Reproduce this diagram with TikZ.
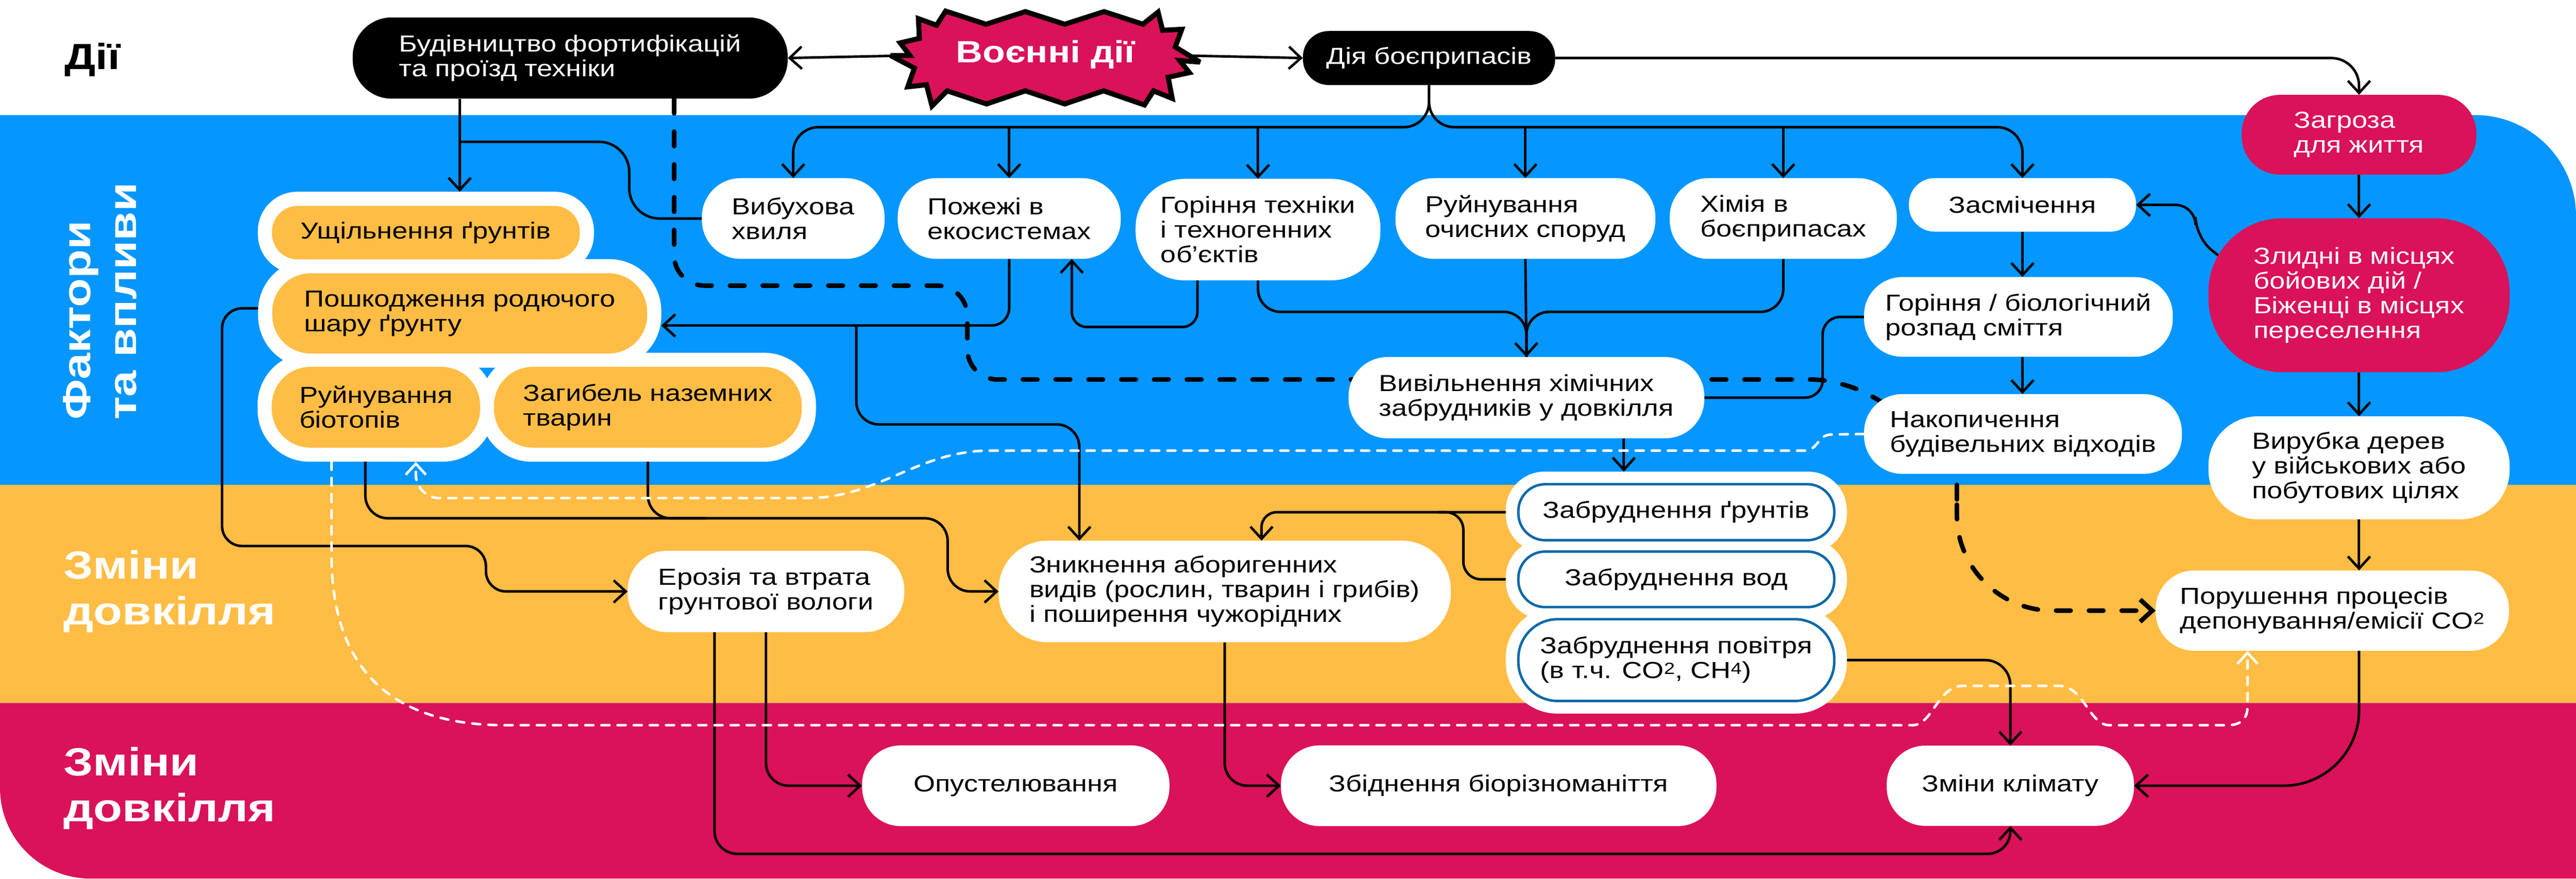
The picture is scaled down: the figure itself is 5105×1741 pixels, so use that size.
\documentclass[tikz,border=0pt]{standalone}
\usepackage{fontspec}
\setmainfont{Liberation Sans}[FakeStretch=1.2]
\usetikzlibrary{arrows.meta}
\pgfdeclarelayer{bands}
\pgfdeclarelayer{halos}
\pgfdeclarelayer{wires}
\pgfsetlayers{bands,halos,wires,main}

\begin{document}
\begin{tikzpicture}[x=1pt,y=-1pt,
  every node/.style={font=\fontsize{46}{49}\selectfont, align=left, inner sep=8pt},
  size/.style 2 args={minimum width=#1pt, minimum height=#2pt, rounded corners=0.48*#2pt},
  whitebox/.style={fill=white, text=black},
  darkbox/.style={fill=black, text=white},
  redbox/.style={fill=warRed, text=white},
  yellowbox/.style={fill=bandYellow, text=black, outer sep=28pt},
  pollbox/.style={fill=white, draw=lineBlue, line width=5pt, outer sep=25pt},
  band label/.style={text=white, inner sep=0pt, font=\bfseries\fontsize{78}{90}\selectfont},
  wire/.style={draw=black, line width=5pt, rounded corners=40pt},
  arr/.style={wire, -{Straight Barb[length=24pt,width=44pt]}},
  bdash/.style={draw=black, line width=9pt, line cap=round, dash pattern=on 29pt off 36pt},
  wdash/.style={draw=white, line width=5pt, line cap=round, dash pattern=on 16pt off 16pt}]
\definecolor{bandBlue}{rgb}{0.02,0.59,1.00}
\definecolor{bandYellow}{rgb}{1.00,0.74,0.27}
\definecolor{warRed}{rgb}{0.85,0.07,0.35}
\definecolor{lineBlue}{rgb}{0.04,0.41,0.66}
\path[use as bounding box] (0,0) rectangle (5105,1741);

% band labels
\node[band label, text=black, font=\bfseries\fontsize{72}{80}\selectfont, anchor=base west] (lblActs) at (128,137) {Дії};
\node[band label, rotate=90] (lblFactors) at (198,597) {Фактори\\та впливи};
\node[band label, anchor=west] (lblEnv) at (126,1172) {Зміни\\довкілля};
\node[band label, anchor=west] (lblEnvRed) at (126,1562) {Зміни\\довкілля};

% actions
\node[darkbox, size={862}{161}] (build) at (1130,115) {Будівництво фортифікацій\\та проїзд техніки};
\draw[fill=warRed, line width=10pt, miter limit=4]
  (1820,37) -- (1856,50) -- (1874,22) -- (1954,48) -- (2032,23) -- (2110,48) -- (2188,23) -- (2265,48)
  -- (2295,24) -- (2304,60) -- (2342,58) -- (2329,93) -- (2378,123) -- (2338,120) -- (2357,144)
  -- (2315,153) -- (2323,195) -- (2286,180) -- (2268,208) -- (2187,180) -- (2110,206) -- (2032,180)
  -- (1955,206) -- (1877,180) -- (1847,210) -- (1836,168) -- (1799,172) -- (1812,135) -- (1765,110)
  -- (1803,110) -- (1784,85) -- (1822,76) -- cycle;
\node[text=white, inner sep=0pt, font=\bfseries\fontsize{61}{61}\selectfont] (war) at (2072,108) {Воєнні дії};
\node[darkbox, size={500}{107}] (ammo) at (2832,115) {Дія боєприпасів};
\node[redbox, size={465}{158}] (threat) at (4675,267) {Загроза\\для життя};

% factors
\node[whitebox, size={362}{160}] (blast) at (1572,433) {Вибухова\\хвиля};
\node[whitebox, size={442}{160}] (fires) at (2000,433) {Пожежі в\\екосистемах};
\node[whitebox, size={485}{201}] (burn) at (2493,455) {Горіння техніки\\і техногенних\\об’єктів};
\node[whitebox, size={515}{160}] (plants) at (3023,433) {Руйнування\\очисних споруд};
\node[whitebox, size={450}{160}] (chem) at (3534,433) {Хімія в\\боєприпасах};
\node[whitebox, size={450}{106}] (litter) at (4008,406) {Засмічення};
\node[redbox, size={597}{305}] (poor) at (4675,585) {Злидні в місцях\\бойових дій /\\Біженці в місцях\\переселення};
\node[whitebox, size={612}{158}] (decay) at (4000,628) {Горіння / біологічний\\розпад сміття};
\node[whitebox, size={705}{161}] (release) at (3025,788) {Вивільнення хімічних\\забрудників у довкілля};
\node[whitebox, size={630}{158}] (waste) at (4009,860) {Накопичення\\будівельних відходів};
\node[whitebox, size={597}{204}] (felling) at (4675,927) {Вирубка дерев\\у військових або\\побутових цілях};
\node[yellowbox, size={610}{106}] (compact) at (844,461) {Ущільнення ґрунтів};
\node[yellowbox, size={743}{159}] (topsoil) at (911,621) {Пошкодження родючого\\шару ґрунту};
\node[yellowbox, size={413}{160}] (biotope) at (745,807) {Руйнування\\біотопів};
\node[yellowbox, size={610}{160}] (fauna) at (1284,807) {Загибель наземних\\тварин};

% environment changes
\node[whitebox, size={548}{161}] (erosion) at (1518,1172) {Ерозія та втрата\\грунтової вологи};
\node[whitebox, size={896}{201}] (species) at (2427,1172) {Зникнення аборигенних\\видів (рослин, тварин і грибів)\\і поширення чужорідних};
\node[pollbox, size={626}{111}] (psoil) at (3322,1015) {Забруднення ґрунтів};
\node[pollbox, size={626}{110}] (pwater) at (3322,1148) {Забруднення вод};
\node[pollbox, size={626}{162}] (pair) at (3322,1308) {Забруднення повітря\\(в т.ч. CO\textsuperscript{2}, CH\textsuperscript{4})};
\node[whitebox, size={700}{159}] (carbon) at (4622,1210) {Порушення процесів\\депонування/емісії CO\textsuperscript{2}};
\node[whitebox, size={609}{160}] (desert) at (2013,1557) {Опустелювання};
\node[whitebox, size={863}{160}] (biodiv) at (2970,1557) {Збіднення біорізноманіття};
\node[whitebox, size={490}{159}] (climate) at (3984,1557) {Зміни клімату};

\begin{pgfonlayer}{bands}
\fill[white] (0,0) rectangle (5105,1741);
\fill[bandBlue] (0,961) -- (0,228) -- (4905,228) .. controls (5015,228) and (5105,318) .. (5105,428) -- (5105,961) -- cycle;
\fill[bandYellow] (0,961) rectangle (5105,1393);
\fill[warRed] (0,1393) -- (5105,1393) -- (5105,1741) -- (180,1741) .. controls (80,1741) and (0,1661) .. (0,1561) -- cycle;
\end{pgfonlayer}

\begin{pgfonlayer}{halos}
\fill[white, rounded corners=78pt] (compact.south west) rectangle (compact.north east);
\fill[white, rounded corners=103pt] (topsoil.south west) rectangle (topsoil.north east);
\fill[white, rounded corners=103pt] (biotope.south west) rectangle (biotope.north east);
\fill[white, rounded corners=103pt] (fauna.south west) rectangle (fauna.north east);
\fill[white, rounded corners=77pt] (psoil.south west) rectangle (psoil.north east);
\fill[white, rounded corners=77pt] (pwater.south west) rectangle (pwater.north east);
\fill[white, rounded corners=102pt] (pair.south west) rectangle (pair.north east);
\end{pgfonlayer}

\begin{pgfonlayer}{wires}
% actions
\draw[arr] (war.west) -- (build.east);
\draw[arr] (war.east) -- (ammo.west);
\draw[arr, rounded corners=55pt] (ammo.east) -| (threat.north);
\coordinate (bus) at (2832,252);
\draw[arr, rounded corners=50pt] (ammo.south) |- (blast.north |- bus) -- (blast.north);
\draw[arr, rounded corners=50pt] (ammo.south) |- (litter.north |- bus) -- (litter.north);
\foreach \n in {fires,burn,plants,chem}
  \draw[arr] (\n.north |- bus) -- (\n.north);
\draw[arr] (build.south -| topsoil) -- (topsoil |- compact.north);
\draw[wire, rounded corners=60pt] (topsoil |- 0,281) -| (1247,0 |- blast.west) -- (blast.west);
\draw[bdash, rounded corners=60pt] (1336,0 |- build.south) -- (1336,566) -- (1917,566) -- (1917,752) -- (3650,752) -- (3878,880) -- (3878,1000);
\draw[bdash, rounded corners=190pt, -{Straight Barb[length=24pt,width=44pt]}] (3878,1000) -- (3878,1210) -- (carbon.west);

% factors
\draw[arr, rounded corners=35pt] (fires.south) |- ([yshift=-24pt]topsoil.east);
\coordinate (fireFork) at (1697,645);
\draw[arr, rounded corners=45pt] (fireFork) |- (2139,841) -- (2139,0 |- species.north);
\draw[arr, rounded corners=30pt] (2373,0 |- burn.south) |- (2124,648) -- (2124,0 |- fires.south);
\coordinate (merge) at (3025,618);
\draw[wire, rounded corners=45pt] (burn.south) |- (release.north |- merge) -- (release.north);
\draw[arr] (plants.south) -- (release.north);
\draw[wire, rounded corners=45pt] (chem.south) |- (release.north |- merge) -- (release.north);
\draw[arr] (3218,0 |- release.south) -- (3218,0 |- psoil.north);
\draw[wire, rounded corners=35pt] (decay.west) -- (3612,628) -- (3612,788) -- (release.east);
\draw[arr] (litter.south) -- (litter.south |- decay.north);
\draw[arr] (litter.south |- decay.south) -- (litter.south |- waste.north);
\draw[arr] (threat.south) -- (poor.north);
\draw[arr] (poor.south) -- (felling.north);
\draw[arr, rounded corners=40pt] ([xshift=22pt,yshift=77pt]poor.west) -- (4351,470) -- (4351,406) -- (litter.east);
\draw[arr] (felling.south) -- (felling.south |- carbon.north);
\draw[arr, rounded corners=150pt] (felling.south |- carbon.south) |- (climate.east);

% soil group
\draw[arr] ([yshift=10pt]topsoil.west) -- (440,611) -- (440,1082) -- (963,1082) -- (963,1172) -- (erosion.west);
\draw[arr, rounded corners=45pt] (724,0 |- biotope.south) |- (1878,1027) -- (1878,1172) -- (species.west);
\draw[wire, rounded corners=45pt] (fauna.south) |- (1400,1027);

% pollution group
\draw[arr, rounded corners=30pt] (psoil.west) -| (2500,0 |- species.north);
\draw[wire, rounded corners=35pt] (pwater.west) -- (2900,1148) -- (2900,1015) -- (2850,1015);
\draw[arr, rounded corners=50pt] (pair.east) -| (climate.north);

% environment changes
\draw[arr, rounded corners=45pt] (species.south) |- (biodiv.west);
\draw[arr, rounded corners=45pt] (erosion.south) |- (desert.west);
\draw[arr, rounded corners=45pt] (1416,0 |- erosion.south) |- (3984,1692) -- (climate.south);

% white dashed links
\draw[wdash, -{Straight Barb[length=22pt,width=40pt]}] (waste.west) -- (3630,861) .. controls (3600,861) and (3605,893) .. (3575,893)
  -- (1960,893) .. controls (1820,893) and (1740,987) .. (1600,987) -- (870,987)
  .. controls (845,987) and (824,965) .. (824,940) -- (824,0 |- biotope.south);
\draw[wdash, -{Straight Barb[length=22pt,width=40pt]}] (657,0 |- biotope.south) -- (657,1100) .. controls (657,1330) and (780,1437) .. (1000,1437)
  -- (3790,1437) .. controls (3830,1437) and (3840,1359) .. (3890,1359) -- (4080,1359)
  .. controls (4130,1359) and (4140,1437) .. (4180,1437) -- (4414,1437)
  .. controls (4440,1437) and (4454,1425) .. (4454,1400) -- (4454,0 |- carbon.south);
\end{pgfonlayer}
\end{tikzpicture}
\end{document}
